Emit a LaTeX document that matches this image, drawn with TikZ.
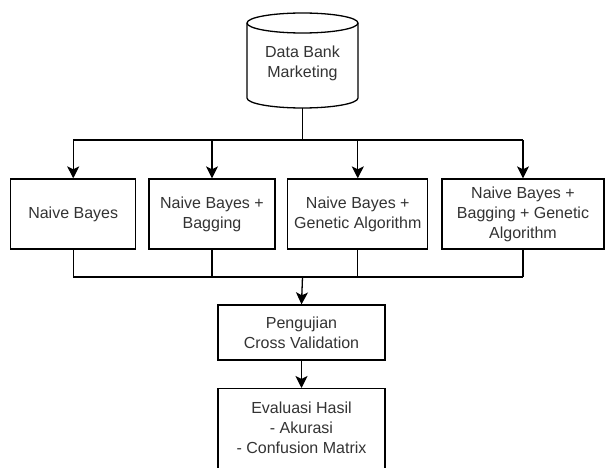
\documentclass[tikz,border=0pt]{standalone}
\usepackage{fontspec}
\setmainfont{Liberation Sans}
\usetikzlibrary{arrows.meta}
\definecolor{txt}{RGB}{51,51,51}
\tikzset{
  box/.style={draw=black, line width=1.3pt, fill=white, align=center, text=txt,
    font=\fontsize{16}{20}\selectfont, inner sep=0pt},
  conn/.style={line width=1.3pt, draw=black},
  arr/.style={conn, -{Stealth[length=12pt,width=12pt,inset=3pt]}},
}
\begin{document}
\begin{tikzpicture}[x=1pt,y=-1pt]
\clip (0,0) rectangle (606,468);
\fill[white] (0,0) rectangle (606,468);
% database cylinder
\draw[conn, fill=white] (247,23) -- (247,98)
  arc[start angle=180, end angle=360, x radius=55.5, y radius=-10] -- (358,23)
  arc[start angle=0, end angle=180, x radius=55.5, y radius=-10] -- cycle;
\draw[conn] (247,23) arc[start angle=180, end angle=360, x radius=55.5, y radius=-10];
\node[inner sep=0pt, minimum width=111pt, minimum height=95pt, align=center, text=txt,
  font=\fontsize{16}{20}\selectfont] (db) at (302.5,60.5) {};
\node[inner sep=0pt, align=center, text=txt, font=\fontsize{16}{20}\selectfont] (dbtxt) at (302.5,63) {Data Bank\\Marketing};
% method boxes
\node[box, minimum width=125pt, minimum height=70pt] (n1) at (73.2,214) {Naive Bayes};
\node[box, minimum width=126pt, minimum height=70pt] (n2) at (212,214) {Naive Bayes +\\Bagging};
\node[box, minimum width=140pt, minimum height=70pt] (n3) at (357.8,214) {Naive Bayes +\\Genetic Algorithm};
\node[box, minimum width=162pt, minimum height=70pt] (n4) at (523,214) {Naive Bayes +\\Bagging + Genetic\\Algorithm};
% test and evaluation
\node[box, minimum width=167pt, minimum height=55pt] (uji) at (301.5,332.5) {Pengujian\\Cross Validation};
\node[box, minimum width=167pt, minimum height=90pt, anchor=north] (eval) at (301.5,388) {};
\node[align=center, text=txt, font=\fontsize{16}{20}\selectfont, inner sep=0pt] (evaltxt) at (301.5,428) {Evaluasi Hasil\\- Akurasi\\- Confusion Matrix};
% split connectors
\coordinate (split) at (302.5,140);
\coordinate (merge) at (302.5,277);
\draw[conn] (db.south) -- (split);
\draw[conn] (split -| n1) -- (split -| n4);
\foreach \n in {n1,n2,n3,n4} \draw[arr] (split -| \n) -- (\n.north);
% merge connectors
\foreach \n in {n1,n2,n3,n4} \draw[conn] (\n.south) -- (merge -| \n);
\draw[conn] (merge -| n1) -- (merge -| n4);
\draw[arr] (merge) -- (uji.north);
\draw[arr] (uji.south) -- (eval.north);
\end{tikzpicture}
\end{document}
